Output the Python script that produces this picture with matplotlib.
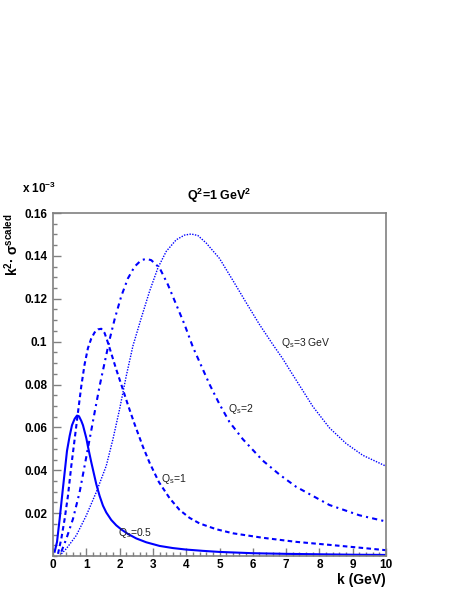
import matplotlib
matplotlib.use("Agg")
import matplotlib.pyplot as plt
from matplotlib.ticker import MultipleLocator, FixedLocator

plt.rcParams['font.family'] = ['Liberation Sans', 'DejaVu Sans']
plt.rcParams['mathtext.fontset'] = 'custom'
plt.rcParams['mathtext.rm'] = 'Liberation Sans'
plt.rcParams['mathtext.bf'] = 'Liberation Sans:bold'
plt.rcParams['mathtext.it'] = 'Liberation Sans:italic'

# Qs = 0.5 (solid)
k_05 = [0.05, 0.12, 0.2, 0.28, 0.35, 0.42, 0.5, 0.57, 0.65, 0.72, 0.78, 0.85, 0.9, 1.0,
        1.05, 1.15, 1.3, 1.4, 1.5, 1.6, 1.75, 1.9, 2.05, 2.25, 2.5, 2.8, 3.2, 3.6, 4.0,
        4.5, 5.0, 6.0, 7.0, 8.0, 9.0, 10.0]
s_05 = [0.002, 0.0065, 0.0173, 0.029, 0.039, 0.049, 0.056, 0.061, 0.064, 0.0655, 0.0652,
        0.063, 0.061, 0.055, 0.051, 0.0437, 0.0335, 0.028, 0.0235, 0.0203, 0.0168, 0.0143,
        0.0124, 0.0103, 0.0082, 0.0064, 0.0047, 0.0037, 0.003, 0.0024, 0.0019, 0.0013,
        0.0010, 0.0008, 0.0006, 0.0005]

# Qs = 1 (dashed)
k_1 = [0.15, 0.25, 0.35, 0.45, 0.55, 0.65, 0.75, 0.85, 0.95, 1.05, 1.15, 1.25, 1.35, 1.45,
       1.55, 1.65, 1.75, 1.9, 2.05, 2.25, 2.45, 2.7, 2.9, 3.18, 3.5, 3.8, 4.1, 4.4, 4.9,
       5.4, 6.3, 7.3, 8.3, 9.2, 10.0]
s_1 = [0.001, 0.0081, 0.0173, 0.0282, 0.0421, 0.0545, 0.067, 0.0793, 0.0895, 0.097,
       0.1015, 0.1043, 0.1057, 0.106, 0.104, 0.0995, 0.0945, 0.087, 0.080, 0.0705, 0.0615,
       0.051, 0.0435, 0.0345, 0.027, 0.0215, 0.0178, 0.0152, 0.0125, 0.0106, 0.0085,
       0.0066, 0.0052, 0.0039, 0.0027]

# Qs = 2 (dash-dot)
k_2 = [0.25, 0.4, 0.6, 0.8, 0.95, 1.1, 1.25, 1.4, 1.55, 1.7, 1.85, 2.05, 2.25, 2.45, 2.65,
       2.8, 2.95, 3.2, 3.45, 3.7, 3.95, 4.2, 4.45, 4.7, 5.0, 5.3, 5.7, 6.3, 6.8, 7.3, 8.3,
       9.2, 10.0]
s_2 = [0.002, 0.008, 0.0173, 0.0298, 0.0421, 0.0545, 0.067, 0.0793, 0.0902, 0.101,
       0.1104, 0.1212, 0.1295, 0.135, 0.138, 0.1386, 0.138, 0.1344, 0.1266, 0.1173, 0.108,
       0.0975, 0.0888, 0.0801, 0.0708, 0.0625, 0.0545, 0.0445, 0.038, 0.0323, 0.0238,
       0.019, 0.0161]

# Qs = 3 GeV (dotted)
k_3 = [0.25, 0.4, 0.7, 1.0, 1.3, 1.6, 1.8, 2.0, 2.2, 2.4, 2.65, 2.9, 3.15, 3.4, 3.7, 3.95,
       4.15, 4.35, 4.6, 5.0, 5.4, 5.8, 6.2, 6.6, 6.9, 7.1, 7.5, 7.8, 8.3, 8.8, 9.3, 10.0]
s_3 = [0.001, 0.0034, 0.0096, 0.0189, 0.0298, 0.0421, 0.0545, 0.0685, 0.084, 0.098, 0.111,
       0.1235, 0.1344, 0.1421, 0.1475, 0.1497, 0.1502, 0.1495, 0.146, 0.1388, 0.1286,
       0.1182, 0.108, 0.0987, 0.092, 0.087, 0.0772, 0.0698, 0.0598, 0.0525, 0.047, 0.0419]

W, H = 463, 599
fig = plt.figure(figsize=(W / 100, H / 100), dpi=100)
ax = fig.add_axes([53 / W, 1 - 556 / H, 333 / W, 343 / H])

blue = '#0000ff'
ax.plot(k_05, s_05, color=blue, lw=1.5, ls='-')
ax.plot(k_1, s_1, color=blue, lw=1.5, ls=(0, (2.2, 1.6)))
ax.plot(k_2, s_2, color=blue, lw=1.5, ls=(0, (2.5, 2, 1, 2)))
ax.plot(k_3, s_3, color=blue, lw=1.0, ls=(0, (1, 1)))

ax.set_xlim(0, 10)
ax.set_ylim(0, 0.16)
ax.xaxis.set_major_locator(MultipleLocator(1))
ax.xaxis.set_minor_locator(MultipleLocator(0.2))
ax.yaxis.set_major_locator(FixedLocator([0.02, 0.04, 0.06, 0.08, 0.1, 0.12, 0.14, 0.16]))
ax.yaxis.set_minor_locator(MultipleLocator(0.005))
ax.set_yticklabels(['0.02', '0.04', '0.06', '0.08', '0.1', '0.12', '0.14', '0.16'])
ax.tick_params(which='both', direction='in', color='#808080', width=1)
ax.tick_params(which='major', length=6, labelsize=8.5)
ax.tick_params(which='minor', length=3)
ax.tick_params(axis='x', which='major', pad=2.5)
ax.tick_params(axis='y', which='major', pad=4)
for lab in ax.get_xticklabels() + ax.get_yticklabels():
    lab.set_fontweight('bold')
for sp in ax.spines.values():
    sp.set_color('#808080')
    sp.set_linewidth(1.2)

# labels and annotations
fig.text(219 / W, 1 - 196 / H, r'Q$^{\mathbf{2}}$=1 GeV$^{\mathbf{2}}$', ha='center',
         va='center', fontsize=9, fontweight='bold')
fig.text(22 / W, 1 - 188 / H, r'x 10$^{\mathbf{-3}}$', ha='left', va='center',
         fontsize=8.5, fontweight='bold')
fig.text(12 / W, 1 - 213 / H, r'k$^{\mathbf{2}}$$\mathbf{\bullet}$ σ$^{\mathbf{scaled}}$',
         rotation=90, ha='center', va='top', fontsize=10, fontweight='bold')
fig.text(386 / W, 1 - 580 / H, 'k (GeV)', ha='right', va='center', fontsize=10,
         fontweight='bold')

ax.text(1.95, 0.0105, r'Q$_{\mathrm{s}}$=0.5', fontsize=7.5, va='center', color='#202020')
ax.text(3.25, 0.036, r'Q$_{\mathrm{s}}$=1', fontsize=7.5, va='center', color='#202020')
ax.text(5.25, 0.0685, r'Q$_{\mathrm{s}}$=2', fontsize=7.5, va='center', color='#202020')
ax.text(6.85, 0.0995, r'Q$_{\mathrm{s}}$=3 GeV', fontsize=7.5, va='center', color='#202020')

fig.savefig('out.png', dpi=100)
